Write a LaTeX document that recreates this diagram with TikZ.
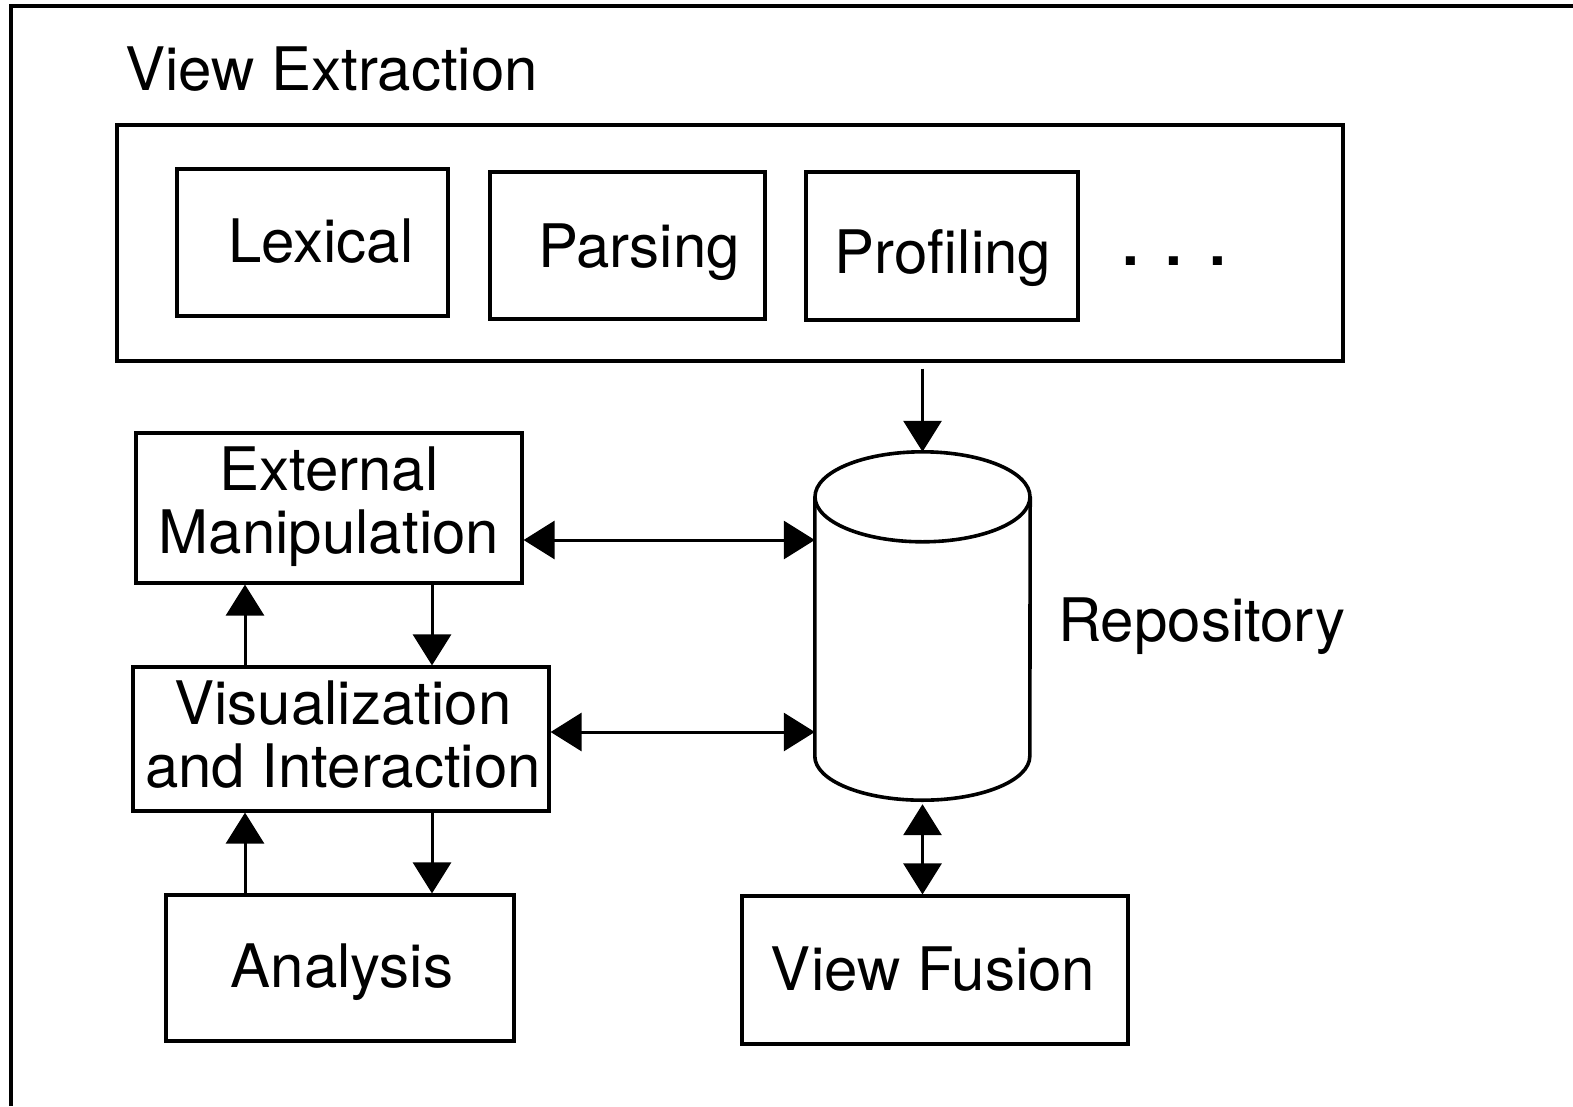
\documentclass[tikz,border=0pt]{standalone}
\usepackage{fontspec}
\setmainfont{TeX Gyre Heros}
\usetikzlibrary{arrows.meta,calc}
\begin{document}
\begin{tikzpicture}[x=1pt,y=1pt,
  box/.style={draw, rectangle, line width=3.2pt, inner sep=0pt},
  lbl/.style={inner sep=0pt, font=\fontsize{60}{63}\selectfont, align=center},
  conn/.style={line width=3pt, -{Triangle[length=31pt,width=38pt]}},
  dconn/.style={line width=3pt, {Triangle[length=31pt,width=38pt]}-{Triangle[length=31pt,width=38pt]}},
  cyl/.style={line width=3.6pt},
]
\useasboundingbox (0,0) rectangle (1573,-1106);

% page frame (top and left edges)
\draw[line width=3.2pt] (1573,-6) -- (11,-6) -- (11,-1106);

% view extraction group
\node[lbl, anchor=base west] (vetitle) at (125,-90) {View Extraction};
\node[box, minimum width=1226, minimum height=236] (vebox) at (730,-243) {};
\node[box, minimum width=271, minimum height=147] (lex) at (312.5,-242.5) {};
\node[box, minimum width=275, minimum height=147] (par) at (627.5,-245.5) {};
\node[box, minimum width=272, minimum height=148] (pro) at (942,-246) {};
\node[lbl, anchor=base] (lext) at (321,-262) {Lexical};
\node[lbl, anchor=base] (part) at (639,-267) {Parsing};
\node[lbl, anchor=base] (prot) at (943,-273) {Profiling};
\node[lbl, anchor=base west] (dots) at (1122,-265) {\bfseries .\hspace{27pt}.\hspace{27pt}.};

% repository cylinder
\node[minimum width=215, minimum height=348, inner sep=0pt] (repo) at (922.5,-626) {};
\draw[cyl] ($(repo.north)+(0,-45)$) ellipse [x radius=107.5, y radius=45];
\draw[cyl] ($(repo.north west)+(0,-45)$) -- ($(repo.south west)+(0,44)$)
  arc[start angle=180, end angle=360, x radius=107.5, y radius=44]
  -- ($(repo.north east)+(0,-45)$);
\node[lbl, anchor=base west] (repot) at (1058,-641) {Repository};

% tool boxes
\node[box, minimum width=386, minimum height=150] (em) at (329,-508) {};
\node[box, minimum width=416, minimum height=144] (vis) at (341,-739) {};
\node[box, minimum width=348, minimum height=146] (ana) at (340,-968) {};
\node[box, minimum width=386, minimum height=148] (vf) at (935,-970) {};
% two-line labels are anchored at the baseline of their last line
\node[lbl, anchor=base] (emt) at (329,-553) {External\\Manipulation};
\node[lbl, anchor=base] (vist) at (343,-787) {Visualization\\and Interaction};
\node[lbl, anchor=base] (anat) at (342,-987) {Analysis};
\node[lbl, anchor=base] (vft) at (933,-990) {View Fusion};

% connectors
\draw[conn, shorten <=6pt] (repo.north |- vebox.south) -- (repo.north);
\draw[dconn] ([yshift=-32pt]em.east) -- ([yshift=-32pt]em.east -| repo.west);
\draw[dconn] ([yshift=7pt]vis.east) -- ([yshift=7pt]vis.east -| repo.west);
\draw[conn] ([xshift=-96pt]vis.north) -- ([xshift=-96pt]vis.north |- em.south);
\draw[conn] ([xshift=91pt]vis.north |- em.south) -- ([xshift=91pt]vis.north);
\draw[conn] ([xshift=-96pt]vis.south |- ana.north) -- ([xshift=-96pt]vis.south);
\draw[conn] ([xshift=91pt]vis.south) -- ([xshift=91pt]vis.south |- ana.north);
\draw[dconn] ([yshift=-4pt]repo.south) -- (repo.south |- vf.north);
\end{tikzpicture}
\end{document}
